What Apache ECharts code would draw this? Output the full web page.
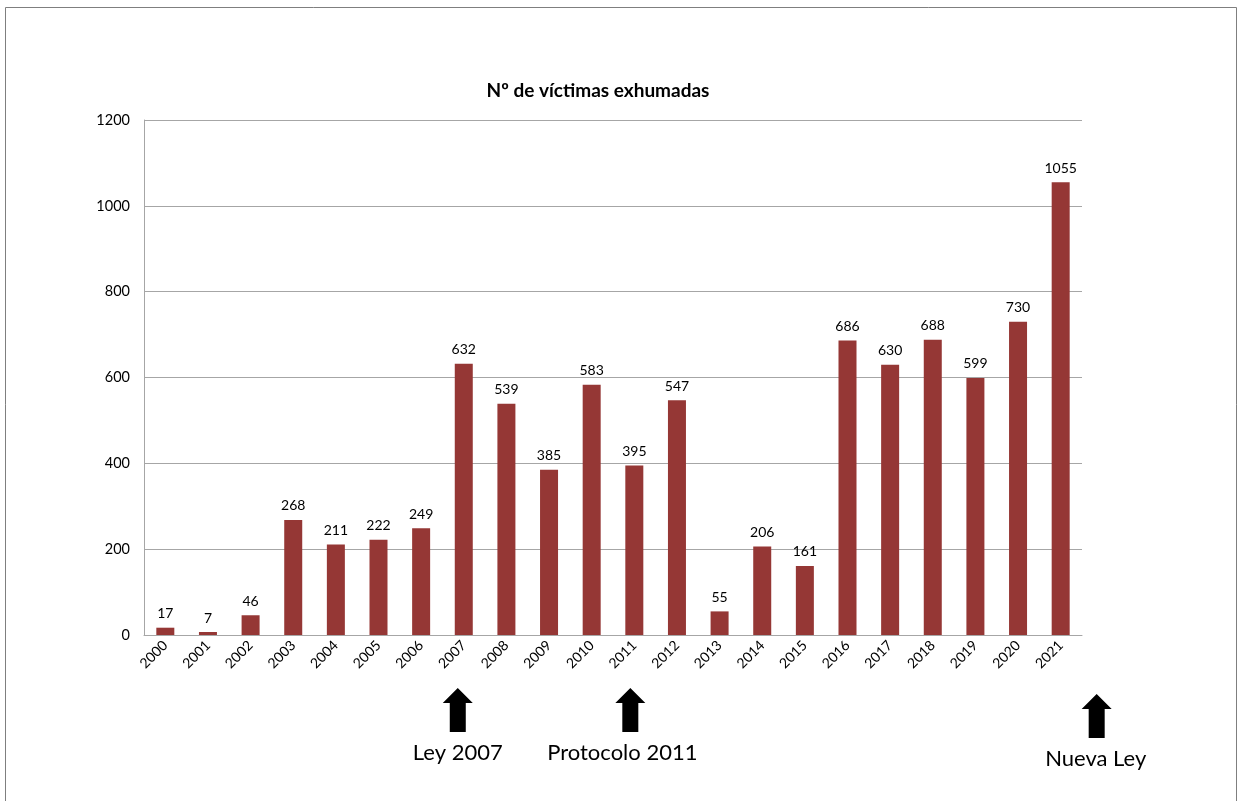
<!DOCTYPE html>
<html><head><meta charset="utf-8">
<script src="https://cdn.jsdelivr.net/npm/echarts@6/dist/echarts.min.js"></script>
<style>html,body{margin:0;padding:0;background:#fff}#c{width:1240px;height:801px}</style>
</head><body><div id="c"></div>
<script>
const years = ['2000','2001','2002','2003','2004','2005','2006','2007','2008','2009','2010','2011','2012','2013','2014','2015','2016','2017','2018','2019','2020','2021'];
const victims = [17,7,46,268,211,222,249,632,539,385,583,395,547,55,206,161,686,630,688,599,730,1055];
const yTicks = [0,200,400,600,800,1000,1200];
const markers = [
  {year:'2007', text:'Ley 2007', dx:-6, tdx:0, top:688},
  {year:'2011', text:'Protocolo 2011', dx:-4, tdx:-8, top:688},
  {year:'2021', text:'Nueva Ley', dx:36, tdx:-1, top:694}
];
const FONT = 'Lato, "Open Sans", sans-serif';
const chart = echarts.init(document.getElementById('c'));
chart.setOption({
  animation:false,
  backgroundColor:'#fff',
  title:{text:'Nº de víctimas exhumadas', left:593, top:76, textAlign:'center',
    textStyle:{fontFamily:FONT, fontSize:19, fontWeight:'bold', color:'#000'}},
  grid:{left:144, right:158, top:120, bottom:166},
  xAxis:{type:'category', data:years,
    axisLine:{lineStyle:{color:'#a6a6a6', width:1}},
    axisTick:{show:false},
    axisLabel:{rotate:45, interval:0, fontFamily:FONT, fontSize:14, color:'#000', margin:8}},
  yAxis:{type:'value', min:0, max:1200, interval:200,
    axisLine:{show:true, lineStyle:{color:'#a6a6a6'}},
    axisTick:{show:false},
    splitLine:{lineStyle:{color:'#a6a6a6'}},
    axisLabel:{fontFamily:FONT, fontSize:14.5, color:'#000', margin:14,
      formatter:v=>yTicks.includes(v)?String(v):''}},
  series:[{type:'bar', data:victims, barWidth:18,
    itemStyle:{color:'#953735'},
    label:{show:true, position:'top', distance:7, fontFamily:FONT, fontSize:14, color:'#000'}}]
});
const gfx = [];
markers.forEach(m=>{
  const x = chart.convertToPixel({xAxisIndex:0}, m.year) + m.dx;
  const top = m.top;
  gfx.push({type:'polygon', shape:{points:[[x,top],[x+15,top+15],[x+8,top+15],[x+8,top+44],[x-8,top+44],[x-8,top+15],[x-15,top+15]]},
    style:{fill:'#000'}});
  gfx.push({type:'text', x: x + m.tdx, y: top+65, style:{text:m.text, fontFamily:FONT, fontSize:22, fill:'#000', align:'center', verticalAlign:'middle'}});
});
gfx.push({type:'rect', shape:{x:5.5, y:7.5, width:1231, height:800}, style:{fill:'none', stroke:'#7f7f7f', lineWidth:1}});
chart.setOption({graphic:gfx});
</script></body></html>
